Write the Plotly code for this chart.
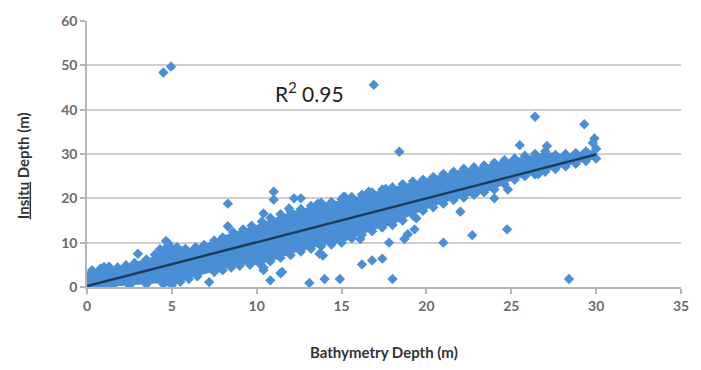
import plotly.graph_objects as go

# Dense band envelope
band_x = [0, 1, 2, 3, 4, 4.6, 5.2, 6, 7, 8, 9, 10, 11, 12, 13, 14, 15, 16, 17, 18, 19, 20,
          21, 22, 23, 24, 25, 26, 27, 28, 29, 30]
band_upper = [3.5, 4.5, 4.8, 5.8, 7, 10, 9.5, 8.8, 9.8, 11.5, 12.8, 14, 15.5, 17, 18, 19, 19.5,
              20.5, 21.5, 22.5, 23.5, 24.5, 25.5, 26.5, 27, 28, 29, 29.5, 30.5, 30, 30.5, 31]
band_lower = [0, 0, 0.2, 0.5, 0.8, 0.6, 0.5, 2, 3, 4, 5, 5, 6, 7.5, 8.5, 9.5, 10, 11.5, 13, 14,
              16, 17.5, 19, 20, 21, 22, 24, 25, 26, 27, 28, 29]

# Points along the band edges
edge_x = [0.3, 0.8, 1.3, 1.8, 2.3, 2.8, 3.5, 4.0, 4.3, 4.8, 5.3, 5.8, 6.4, 6.9, 7.5, 8.0, 8.6,
          9.2, 9.7, 10.3, 10.8, 11.4, 12.0, 12.6, 13.2, 13.8, 14.4, 15.0, 15.6, 16.2, 16.8, 17.4,
          18.0, 18.6, 19.2, 19.8, 20.4, 21.0, 21.6, 22.2, 22.8, 23.4, 24.0, 24.6, 25.2, 25.8,
          26.4, 27.0, 27.6, 28.2, 28.8, 29.4, 30.0,
          0.5, 1.5, 2.5, 3.5, 4.5, 5.0, 5.5, 6.0, 6.5, 7.5, 8.0, 8.5, 9.0, 9.6, 10.2, 10.8, 11.4,
          12.0, 12.6, 13.2, 13.8, 14.4, 15.0, 15.6, 16.2, 16.8, 17.4, 18.0, 18.6, 19.2, 19.8,
          20.4, 21.0, 21.6, 22.2, 22.8, 23.4, 24.0, 24.6, 25.2, 25.8, 26.4, 27.0, 27.6, 28.2,
          28.8, 29.4, 30.0]
edge_y = [3.8, 4.2, 4.6, 4.4, 4.9, 5.4, 6.2, 7.3, 8.5, 9.8, 9.0, 8.6, 9.0, 9.5, 10.5, 11.2, 12.4,
          13.0, 13.8, 14.8, 15.6, 16.4, 17.0, 17.6, 18.3, 19.0, 19.2, 19.8, 20.3, 20.8, 21.3, 22.0,
          22.5, 23.2, 23.8, 24.2, 24.8, 25.5, 26.0, 26.7, 27.0, 27.4, 28.0, 28.6, 29.0, 29.6,
          30.0, 30.6, 29.8, 30.0, 30.2, 30.6, 31.2,
          0.1, 0.2, 0.3, 0.6, 0.6, 0.4, 1.2, 1.8, 2.4, 3.4, 3.8, 4.4, 4.8, 5.0, 5.2, 5.8, 6.6,
          7.2, 8.0, 8.6, 9.2, 9.6, 10.0, 11.0, 11.8, 12.6, 13.4, 14.0, 15.0, 16.2, 17.2,
          18.0, 18.8, 19.6, 20.2, 20.8, 21.4, 22.0, 23.2, 24.2, 25.0, 25.4, 26.0, 26.6, 27.2,
          27.8, 28.4, 29.0]

# Scattered / outlying points
out_x = [4.5, 4.95, 16.9, 26.4, 29.3, 29.9, 29.8, 25.5, 18.4, 24.75, 22.7, 21.0, 19.4, 18.7,
         17.8, 16.2, 16.8, 17.4, 18.0, 28.4, 24.8, 23.0, 26.6, 8.3, 8.3, 11.0, 11.0, 12.2, 12.6,
         15.1, 3.0, 4.65, 10.4, 10.8, 11.4, 13.1, 14.0, 14.9, 7.2, 13.9, 10.4, 11.9, 13.6, 16.1,
         18.9, 19.3, 17.6, 16.6, 15.2, 1.0, 10.4, 11.5, 27.1, 22.0, 24.0, 13.7]
out_y = [48.4, 49.7, 45.6, 38.4, 36.7, 33.5, 32.5, 32.0, 30.5, 13.0, 11.7, 10.0, 15.5, 10.8,
         10.0, 5.1, 6.0, 6.4, 1.8, 1.8, 22.0, 21.5, 25.5, 18.8, 13.7, 21.5, 19.7, 20.0, 20.0,
         20.3, 7.5, 10.4, 3.8, 1.5, 3.1, 0.9, 1.8, 1.8, 1.1, 7.1, 16.6, 17.7, 18.8, 10.8,
         11.9, 13.0, 22.1, 21.5, 20.3, 4.5, 4.4, 3.4, 31.8, 17.0, 20.0, 7.5]

# Linear trend line
trend_x = [0, 30]
trend_y = [0.2, 29.9]

x_ticks = [0, 5, 10, 15, 20, 25, 30, 35]
y_ticks = [0, 10, 20, 30, 40, 50, 60]

blue = "#4a8fd6"

fig = go.Figure()
fig.add_trace(go.Scatter(x=band_x, y=band_lower, mode="lines", line=dict(width=0, color=blue),
                         hoverinfo="skip", showlegend=False))
fig.add_trace(go.Scatter(x=band_x, y=band_upper, mode="lines", line=dict(width=0, color=blue),
                         fill="tonexty", fillcolor=blue, showlegend=False))
fig.add_trace(go.Scatter(x=edge_x + out_x, y=edge_y + out_y, mode="markers",
                         marker=dict(symbol="diamond", size=8, color=blue, line=dict(width=0)),
                         showlegend=False))
fig.add_trace(go.Scatter(x=trend_x, y=trend_y, mode="lines",
                         line=dict(color="#1f3d5c", width=2.5), showlegend=False))

tickfont = dict(family="Lato", size=14, color="#6a6a6a", weight="bold")
fig.update_xaxes(range=[0, 35], tickvals=x_ticks, showgrid=False, zeroline=False,
                 showline=True, linecolor="#b5b5b5", linewidth=1.5,
                 ticks="outside", ticklen=5, tickcolor="#b5b5b5", tickwidth=1.5,
                 tickfont=tickfont, fixedrange=True)
fig.update_yaxes(range=[0, 60], tickvals=y_ticks, showgrid=True, gridcolor="#cfcfcf",
                 gridwidth=1.5, zeroline=False, showline=True, linecolor="#b5b5b5",
                 linewidth=1.5, ticks="outside", ticklen=5, tickcolor="#b5b5b5", tickwidth=1.5,
                 tickfont=tickfont, fixedrange=True)

fig.add_annotation(x=13.1, y=44, xref="x", yref="y", text="R<sup>2</sup> 0.95",
                   showarrow=False, font=dict(family="Lato", size=21, color="#222222"))
fig.add_annotation(x=0.5, y=-0.2435, xref="paper", yref="paper",
                   text="<b>Bathymetry Depth (m)</b>", showarrow=False,
                   xanchor="center", yanchor="middle",
                   font=dict(family="Lato", size=15, color="#333333"))
fig.add_annotation(x=-0.108, y=0.4576, xref="paper", yref="paper",
                   text="<b><u>Insitu</u> Depth (m)</b>",
                   showarrow=False, textangle=-90, xanchor="center", yanchor="middle",
                   font=dict(family="Lato", size=15, color="#333333"))

fig.update_layout(width=701, height=370, margin=dict(l=87, r=13, t=16, b=83),
                  paper_bgcolor="white", plot_bgcolor="white")
fig.write_html("out.html", config={"displayModeBar": False},
               post_script="document.body.style.margin='0';")
